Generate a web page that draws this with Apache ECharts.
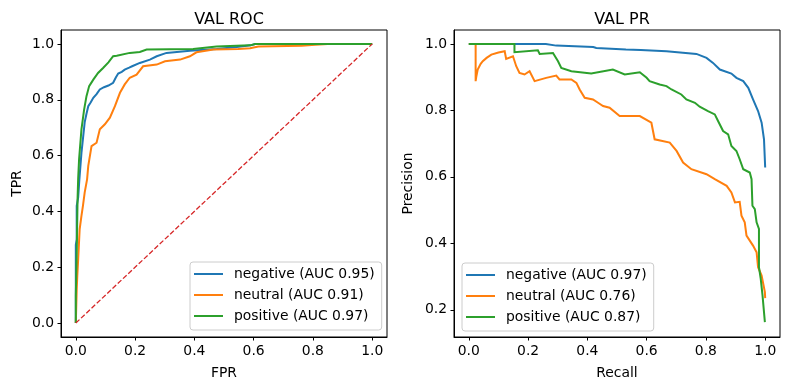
<!DOCTYPE html>
<html>
<head>
<meta charset="utf-8">
<script src="https://cdn.jsdelivr.net/npm/echarts@6/dist/echarts.min.js"></script>
<style>html,body{margin:0;padding:0;background:#fff}#c{width:790px;height:390px}</style>
</head>
<body>
<div id="c"></div>
<script>
// ---- Data ----
const rocTicks = [0, 0.2, 0.4, 0.6, 0.8, 1.0];
const prXTicks = [0, 0.2, 0.4, 0.6, 0.8, 1.0];
const prYTicks = [0.2, 0.4, 0.6, 0.8, 1.0];

const rocNames = ['negative (AUC 0.95)', 'neutral (AUC 0.91)', 'positive (AUC 0.97)'];
const prNames = ['negative (AUC 0.97)', 'neutral (AUC 0.76)', 'positive (AUC 0.87)'];

const rocNegative = [[0,0],[0,0.28],[0.003,0.30],[0.003,0.42],[0.008,0.45],[0.012,0.515],[0.019,0.61],[0.025,0.67],[0.03,0.72],[0.036,0.75],[0.042,0.777],[0.05,0.79],[0.059,0.807],[0.07,0.82],[0.081,0.837],[0.095,0.845],[0.11,0.851],[0.126,0.861],[0.135,0.88],[0.143,0.894],[0.155,0.90],[0.165,0.908],[0.18,0.915],[0.19,0.92],[0.216,0.932],[0.25,0.944],[0.273,0.956],[0.306,0.968],[0.385,0.976],[0.475,0.982],[0.543,0.989],[0.59,0.995],[0.605,1.0],[1,1]];
const rocNeutral = [[0,0],[0.003,0.12],[0.005,0.17],[0.008,0.23],[0.013,0.337],[0.019,0.384],[0.024,0.42],[0.03,0.468],[0.038,0.515],[0.042,0.563],[0.053,0.634],[0.07,0.646],[0.081,0.694],[0.098,0.712],[0.115,0.736],[0.132,0.777],[0.149,0.825],[0.165,0.855],[0.182,0.879],[0.205,0.89],[0.227,0.92],[0.273,0.926],[0.301,0.938],[0.352,0.944],[0.385,0.956],[0.407,0.97],[0.464,0.98],[0.548,0.982],[0.588,0.985],[0.616,0.991],[0.762,0.994],[0.808,0.997],[0.85,1.0],[1,1]];
const rocPositive = [[0,0],[0,0.10],[0.003,0.25],[0.006,0.45],[0.008,0.52],[0.011,0.587],[0.019,0.694],[0.028,0.765],[0.036,0.813],[0.045,0.849],[0.059,0.872],[0.075,0.896],[0.092,0.914],[0.11,0.934],[0.126,0.956],[0.138,0.958],[0.182,0.968],[0.216,0.971],[0.239,0.98],[0.396,0.982],[0.475,0.991],[0.588,0.995],[0.605,1.0],[1,1]];
const rocChance = [[0,0],[1,1]];

const prNegative = [[0,1],[0.26,1],[0.265,0.998],[0.295,0.995],[0.42,0.991],[0.43,0.988],[0.53,0.983],[0.58,0.982],[0.667,0.978],[0.768,0.97],[0.802,0.958],[0.824,0.943],[0.847,0.923],[0.886,0.911],[0.903,0.898],[0.926,0.888],[0.943,0.868],[0.959,0.833],[0.976,0.798],[0.988,0.763],[0.996,0.713],[1.0,0.628]];
const prNeutral = [[0,1],[0.023,1],[0.023,0.888],[0.025,0.9],[0.03,0.923],[0.04,0.94],[0.047,0.948],[0.06,0.958],[0.076,0.968],[0.1,0.974],[0.121,0.978],[0.126,0.955],[0.149,0.963],[0.16,0.933],[0.171,0.913],[0.188,0.908],[0.205,0.918],[0.222,0.888],[0.261,0.898],[0.295,0.905],[0.306,0.893],[0.346,0.893],[0.363,0.883],[0.374,0.863],[0.391,0.838],[0.419,0.833],[0.436,0.823],[0.453,0.813],[0.475,0.808],[0.509,0.783],[0.577,0.783],[0.616,0.763],[0.627,0.713],[0.678,0.703],[0.701,0.678],[0.723,0.643],[0.751,0.623],[0.802,0.608],[0.83,0.593],[0.87,0.573],[0.886,0.553],[0.898,0.523],[0.914,0.525],[0.92,0.483],[0.931,0.463],[0.937,0.423],[0.959,0.393],[0.971,0.373],[0.976,0.328],[0.988,0.303],[0.999,0.253],[1.0,0.235]];
const prPositive = [[0,1],[0.154,1],[0.154,0.975],[0.233,0.981],[0.239,0.97],[0.284,0.973],[0.301,0.948],[0.312,0.928],[0.346,0.918],[0.351,0.913],[0.413,0.911],[0.486,0.923],[0.526,0.908],[0.577,0.915],[0.6,0.898],[0.61,0.888],[0.644,0.878],[0.667,0.873],[0.684,0.863],[0.717,0.848],[0.734,0.833],[0.763,0.823],[0.779,0.811],[0.807,0.798],[0.83,0.788],[0.841,0.768],[0.858,0.738],[0.875,0.728],[0.886,0.693],[0.903,0.678],[0.914,0.653],[0.926,0.623],[0.948,0.613],[0.954,0.593],[0.957,0.513],[0.965,0.503],[0.971,0.463],[0.979,0.443],[0.979,0.328],[0.985,0.293],[0.991,0.243],[0.999,0.163]];

// ---- Chart ----
const FONT = 'DejaVu Sans';
const COLORS = ['#1f77b4', '#ff7f0e', '#2ca02c'];
const fmt = v => v.toFixed(1);

function xAxis(gi, ticks, name, min, max) {
  return {
    type: 'value', gridIndex: gi, min: min, max: max,
    name: name, nameLocation: 'middle', nameGap: 29,
    nameTextStyle: { fontFamily: FONT, fontSize: 13.9, color: '#000' },
    axisLine: { show: true, onZero: false, lineStyle: { color: '#000', width: 1 } },
    axisTick: { show: true, length: 3.5, customValues: ticks, lineStyle: { color: '#000', width: 1 } },
    axisLabel: { customValues: ticks, formatter: fmt, margin: 7, fontFamily: FONT, fontSize: 13.9, color: '#000' },
    splitLine: { show: false }
  };
}
function yAxis(gi, ticks, name, min, max, gap) {
  return {
    type: 'value', gridIndex: gi, min: min, max: max,
    name: name, nameLocation: 'middle', nameGap: gap, nameRotate: 90,
    nameTextStyle: { fontFamily: FONT, fontSize: 13.9, color: '#000' },
    axisLine: { show: true, onZero: false, lineStyle: { color: '#000', width: 1 } },
    axisTick: { show: true, length: 3.5, customValues: ticks, lineStyle: { color: '#000', width: 1 } },
    axisLabel: { customValues: ticks, formatter: fmt, margin: 7, fontFamily: FONT, fontSize: 13.9, color: '#000' },
    splitLine: { show: false }
  };
}
function line(name, data, ci, gi) {
  return {
    type: 'line', name: name, data: data, xAxisIndex: gi, yAxisIndex: gi,
    symbol: 'none', showSymbol: false, smooth: false,
    lineStyle: { color: COLORS[ci], width: 2, join: 'miter' }, itemStyle: { color: COLORS[ci] },
    emphasis: { disabled: true }
  };
}
function legend(names, left, top) {
  return {
    orient: 'vertical', left: left, top: top, data: names,
    icon: 'rect', itemWidth: 29, itemHeight: 2, itemGap: 7,
    padding: [5, 7, 7, 4],
    backgroundColor: 'rgba(255,255,255,0.8)', borderColor: '#cccccc', borderWidth: 1, borderRadius: 3,
    textStyle: { fontFamily: FONT, fontSize: 13.9, color: '#000', lineHeight: 14, padding: [0, 0, 0, 6] },
    selectedMode: false
  };
}

const chart = echarts.init(document.getElementById('c'), null, { renderer: 'canvas' });
chart.setOption({
  animation: false,
  backgroundColor: '#fff',
  title: [
    { text: 'VAL ROC', left: 224, top: 7, textAlign: 'center', textStyle: { fontFamily: FONT, fontSize: 16, fontWeight: 'normal', color: '#000' } },
    { text: 'VAL PR', left: 617, top: 7, textAlign: 'center', textStyle: { fontFamily: FONT, fontSize: 16, fontWeight: 'normal', color: '#000' } }
  ],
  grid: [
    { left: 61, top: 30, width: 326, height: 307, show: true, borderColor: '#000', borderWidth: 1, backgroundColor: 'transparent' },
    { left: 454, top: 30, width: 326, height: 307, show: true, borderColor: '#000', borderWidth: 1, backgroundColor: 'transparent' }
  ],
  xAxis: [xAxis(0, rocTicks, 'FPR', -0.05, 1.05), xAxis(1, prXTicks, 'Recall', -0.05, 1.05)],
  yAxis: [yAxis(0, rocTicks, 'TPR', -0.05, 1.05, 37), yAxis(1, prYTicks, 'Precision', 0.118, 1.042, 39)],
  legend: [legend(rocNames, 190, 262), legend(prNames, 462, 263)],
  series: [
    line(rocNames[0], rocNegative, 0, 0),
    line(rocNames[1], rocNeutral, 1, 0),
    line(rocNames[2], rocPositive, 2, 0),
    { type: 'line', data: rocChance, xAxisIndex: 0, yAxisIndex: 0, symbol: 'none', lineStyle: { color: '#d62728', width: 1.3, type: [5, 2.2] }, emphasis: { disabled: true } },
    line(prNames[0], prNegative, 0, 1),
    line(prNames[1], prNeutral, 1, 1),
    line(prNames[2], prPositive, 2, 1)
  ]
});
</script>
</body>
</html>
